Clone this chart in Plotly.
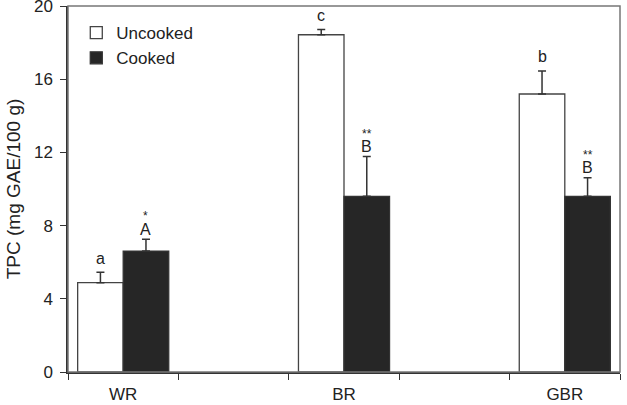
import plotly.graph_objects as go

groups = ["WR", "BR", "GBR"]
axis_categories = ["WR", " ", "BR", "  ", "GBR"]
uncooked = [4.88, 18.43, 15.19]
uncooked_err = [0.57, 0.29, 1.26]
cooked = [6.61, 9.6, 9.6]
cooked_err = [0.64, 2.17, 1.02]
uncooked_letters = ["a", "c", "b"]
cooked_letters = ["A", "B", "B"]
cooked_stars = ["*", "**", "**"]
y_ticks = [0, 4, 8, 12, 16, 20]

FONT = "Arial, Liberation Sans, sans-serif"
bar_w = 0.4125

fig = go.Figure()
fig.add_trace(go.Bar(
    name="Uncooked", x=groups, y=uncooked, width=bar_w, offset=-bar_w,
    marker=dict(color="white", line=dict(color="#444", width=1.3)),
    error_y=dict(type="data", symmetric=False, array=uncooked_err,
                 arrayminus=[0] * len(groups), color="#333", thickness=1.5, width=4),
))
fig.add_trace(go.Bar(
    name="Cooked", x=groups, y=cooked, width=bar_w, offset=0,
    marker=dict(color="#262626", line=dict(color="#333", width=1.3)),
    error_y=dict(type="data", symmetric=False, array=cooked_err,
                 arrayminus=[0] * len(groups), color="#333", thickness=1.5, width=4),
))

annotations = []
for i, g in enumerate(groups):
    idx = axis_categories.index(g)
    annotations.append(dict(x=idx - bar_w / 2, y=uncooked[i] + uncooked_err[i],
                            text=uncooked_letters[i], showarrow=False,
                            yanchor="middle", yshift=14,
                            font=dict(family=FONT, size=16, color="#222")))
    annotations.append(dict(x=idx + bar_w / 2, y=cooked[i] + cooked_err[i],
                            text=cooked_letters[i], showarrow=False,
                            yanchor="middle", yshift=10,
                            font=dict(family=FONT, size=16, color="#222")))
    annotations.append(dict(x=idx + bar_w / 2, y=cooked[i] + cooked_err[i],
                            text=cooked_stars[i], showarrow=False,
                            yanchor="middle", yshift=23,
                            font=dict(family=FONT, size=12, color="#222")))

fig.update_layout(
    width=627, height=405,
    margin=dict(l=68, r=7, t=6, b=33, autoexpand=False),
    paper_bgcolor="white", plot_bgcolor="white",
    barmode="overlay",
    showlegend=True,
    legend=dict(x=0.015, y=0.975, xanchor="left", yanchor="top",
                bgcolor="rgba(0,0,0,0)", font=dict(family=FONT, size=17, color="#222"),
                tracegroupgap=0),
    font=dict(family=FONT, size=17, color="#222"),
    annotations=annotations,
    shapes=[dict(type="rect", xref="paper", yref="paper", x0=0, x1=1, y0=0, y1=1,
                 line=dict(color="#777", width=1.5), layer="above")],
)
fig.update_xaxes(
    type="category", categoryorder="array", categoryarray=axis_categories,
    range=[-0.5, 4.5], showline=True, linecolor="#333", linewidth=1.5,
    ticks="outside", tickson="boundaries", ticklen=6, tickwidth=1.3, tickcolor="#333",
    ticklabelstandoff=6, showgrid=False, zeroline=False, ticklabeloverflow="allow",
    automargin=False,
    tickfont=dict(family=FONT, size=17, color="#222"),
)
fig.update_yaxes(
    range=[0, 20], tickvals=y_ticks, showline=True, linecolor="#333", linewidth=1.5,
    ticks="outside", ticklen=6, tickwidth=1.3, tickcolor="#333",
    showgrid=False, zeroline=False, ticklabelstandoff=4, ticklabeloverflow="allow",
    automargin=False,
    tickfont=dict(family=FONT, size=17, color="#222"),
    title=dict(text="TPC (mg GAE/100 g)", font=dict(family=FONT, size=19, color="#222"),
               standoff=8),
)

fig.write_html("out.html")
